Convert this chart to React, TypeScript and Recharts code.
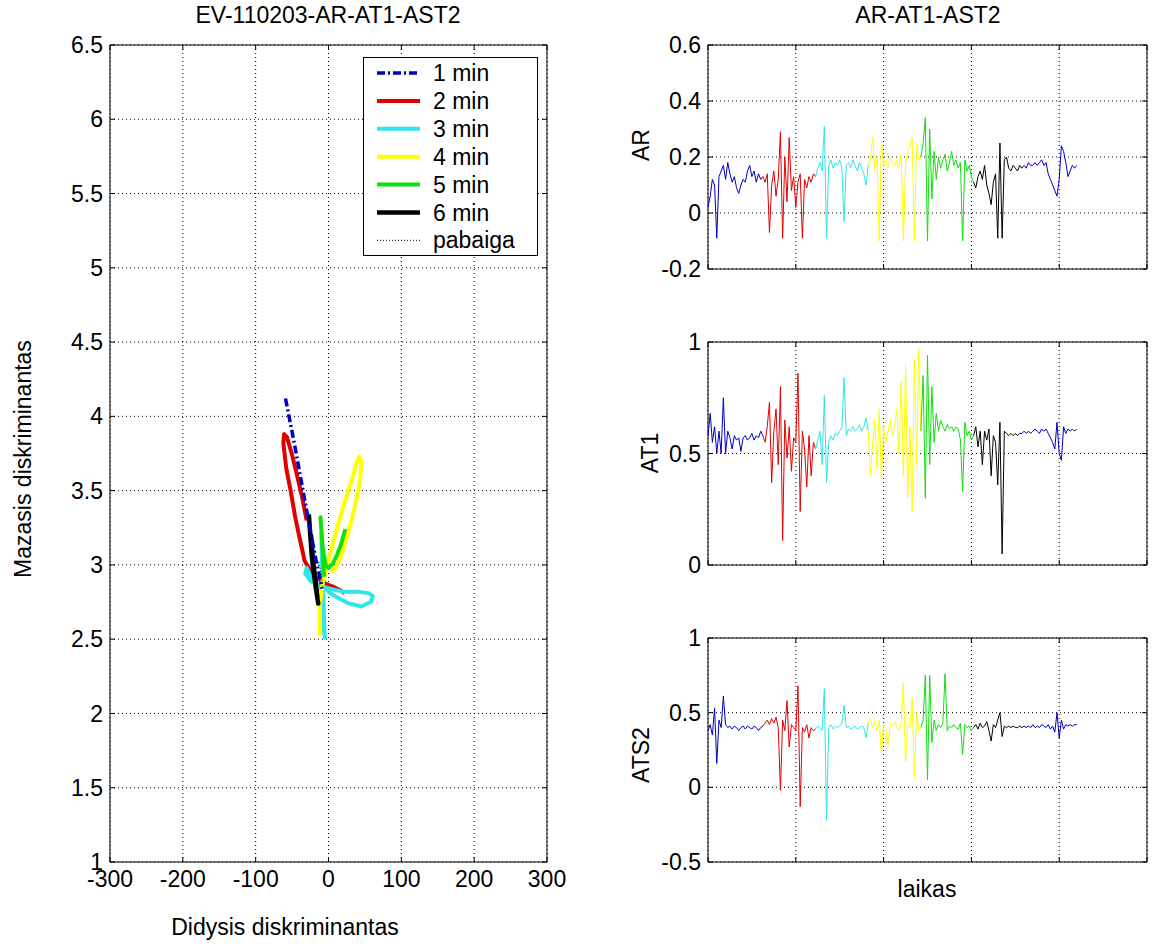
import React from 'react';
import {
  CartesianGrid,
  Legend,
  Line,
  LineChart,
  ReferenceArea,
  XAxis,
  YAxis,
} from 'recharts';

const FONT = '"Liberation Sans", Arial, Helvetica, sans-serif';

const BLUE = '#0000c0';
const RED = '#e00000';
const CYAN = '#30e6ea';
const YELLOW = '#ffff00';
const GREEN = '#10e010';
const BLACK = '#000000';

// ---- left panel: discriminant trajectories per minute ----
const min1X = [-59, -53, -47, -41, -35, -29, -23, -17, -12, -9];
const min1Y = [4.12, 3.97, 3.82, 3.66, 3.5, 3.34, 3.18, 3.03, 2.92, 2.84];

const min2X = [-30, -36, -43, -50, -57, -61, -62, -58, -52, -46, -41, -36, -33, -25, -15, -3, 8, 16, 22];
const min2Y = [3.3, 3.45, 3.6, 3.74, 3.86, 3.88, 3.82, 3.65, 3.5, 3.33, 3.21, 3.1, 3.03, 2.96, 2.91, 2.87, 2.85, 2.83, 2.81];

const min3X = [-10, -9, -8, -7, -6, -5, -6, -7, -12, -22, -30, -32, -24, -12, 2, 20, 40, 55, 61, 58, 45, 28, 12, 0, -6];
const min3Y = [3.22, 3.05, 2.88, 2.7, 2.55, 2.51, 2.62, 2.8, 2.86, 2.9, 2.98, 2.94, 2.89, 2.86, 2.84, 2.82, 2.82, 2.81, 2.79, 2.75, 2.72, 2.74, 2.78, 2.82, 2.85];

const min4X = [-12, -12, -8, -3, 0, 8, 16, 24, 32, 38, 42, 45, 44, 40, 34, 26, 18, 10, 4];
const min4Y = [2.52, 2.72, 2.88, 2.97, 3.03, 3.18, 3.32, 3.45, 3.57, 3.68, 3.73, 3.7, 3.6, 3.48, 3.35, 3.2, 3.07, 2.98, 2.95];

const min5X = [23, 18, 12, 6, 0, -4, -8, -10, -11, -9, -7, -6];
const min5Y = [3.24, 3.15, 3.07, 3.01, 2.98, 3.0, 3.12, 3.25, 3.32, 3.18, 3.02, 2.92];

const min6X = [-27, -25, -23, -20, -17, -14, -16, -19, -22, -24, -21, -17, -15];
const min6Y = [3.34, 3.2, 3.06, 2.94, 2.83, 2.74, 2.8, 2.92, 3.06, 3.2, 3.02, 2.86, 2.77];

const endX = [-13, -11, -9, -7];
const endY = [3.02, 2.96, 2.9, 2.84];

const leftXTicks = [-300, -200, -100, 0, 100, 200, 300];
const leftYTicks = [1, 1.5, 2, 2.5, 3, 3.5, 4, 4.5, 5, 5.5, 6, 6.5];

// ---- right panels: signals over time, coloured by minute ----
const segmentNames = ['blue1', 'red', 'cyan', 'yellow', 'green', 'black', 'blue2'];
const segmentBreaks = [0, 25, 49, 73, 97, 121, 143, 168];
const segmentColors = [BLUE, RED, CYAN, YELLOW, GREEN, BLACK, BLUE];

const arValues = [
  0.02, 0.06, 0.12, 0.1, -0.09, 0.13, 0.15, 0.17, 0.12, 0.18, 0.14, 0.11, 0.13, 0.09, 0.07, 0.1, 0.12, 0.11, 0.15, 0.17, 0.13, 0.15, 0.11, 0.14, 0.12,
  0.13, 0.11, 0.14, -0.07, 0.1, 0.15, 0.06, 0.12, 0.29, -0.09, 0.2, 0.04, 0.27, 0.08, 0.13, 0.02, 0.11, 0.14, -0.09, 0.12, 0.09, 0.13, 0.11, 0.14,
  0.13, 0.16, 0.18, 0.15, 0.31, -0.09, 0.17, 0.19, 0.16, 0.18, 0.17, 0.19, 0.16, -0.03, 0.17, 0.18, 0.16, 0.19, 0.17, 0.15, 0.18, 0.16, 0.14, 0.1,
  0.17, 0.19, 0.27, 0.15, 0.2, -0.1, 0.26, 0.17, 0.19, 0.16, 0.2, 0.18, 0.17, 0.19, 0.16, 0.21, -0.1, 0.18, 0.22, 0.24, 0.27, -0.1, 0.25, 0.19,
  0.2, 0.25, 0.34, -0.1, 0.3, 0.05, 0.22, 0.12, 0.2, 0.16, 0.19, 0.21, 0.15, 0.18, 0.22, 0.17, 0.19, 0.16, 0.18, -0.1, 0.19, 0.15, 0.17, 0.13,
  0.11, 0.09, 0.13, 0.15, 0.12, 0.17, 0.1, 0.07, 0.03, 0.11, 0.14, -0.09, 0.25, -0.09, 0.19, 0.2, 0.16, 0.15, 0.17, 0.16, 0.15, 0.17,
  0.16, 0.17, 0.16, 0.18, 0.17, 0.17, 0.18, 0.17, 0.18, 0.19, 0.17, 0.18, 0.14, 0.12, 0.1, 0.08, 0.06, 0.12, 0.24, 0.22, 0.18, 0.13, 0.15, 0.17, 0.16, 0.17,
];

const at1Values = [
  0.58, 0.68, 0.55, 0.62, 0.5, 0.6, 0.5, 0.75, 0.5, 0.6, 0.57, 0.52, 0.58, 0.56, 0.57, 0.51, 0.57, 0.58, 0.56, 0.57, 0.59, 0.56, 0.58, 0.57, 0.6,
  0.58, 0.55, 0.62, 0.73, 0.37, 0.6, 0.7, 0.45, 0.8, 0.11, 0.65, 0.48, 0.62, 0.42, 0.57, 0.55, 0.86, 0.24, 0.6, 0.52, 0.35, 0.58, 0.4, 0.55,
  0.52, 0.56, 0.6, 0.45, 0.76, 0.37, 0.55, 0.58, 0.56, 0.59, 0.58, 0.6, 0.62, 0.84, 0.58, 0.61, 0.6, 0.62, 0.6, 0.61, 0.63, 0.6, 0.62, 0.66,
  0.6, 0.4, 0.55, 0.65, 0.43, 0.7, 0.38, 0.62, 0.55, 0.6, 0.65, 0.58, 0.62, 0.7, 0.5, 0.82, 0.4, 0.9, 0.3, 0.62, 0.24, 0.92, 0.45, 0.97,
  0.6, 0.85, 0.3, 0.94, 0.45, 0.8, 0.55, 0.68, 0.6, 0.65, 0.62, 0.6, 0.63, 0.61, 0.62, 0.6, 0.62, 0.61, 0.56, 0.33, 0.64, 0.58, 0.6, 0.56,
  0.58, 0.62, 0.53, 0.6, 0.45, 0.6, 0.56, 0.61, 0.4, 0.58, 0.55, 0.36, 0.64, 0.05, 0.6, 0.59, 0.58, 0.59, 0.58, 0.59, 0.58, 0.59,
  0.59, 0.6, 0.59, 0.6, 0.59, 0.6, 0.61, 0.6, 0.59, 0.61, 0.6, 0.61, 0.59, 0.57, 0.55, 0.52, 0.64, 0.5, 0.47, 0.62, 0.59, 0.61, 0.6, 0.61, 0.6, 0.61,
];

const ats2Values = [
  0.38, 0.42, 0.35, 0.53, 0.16, 0.45, 0.4, 0.61, 0.42, 0.4, 0.41, 0.39, 0.41, 0.4, 0.38, 0.4, 0.41, 0.39, 0.41, 0.4, 0.39, 0.41, 0.4, 0.38, 0.4,
  0.41, 0.43, 0.45, 0.42, 0.46, 0.43, 0.47, 0.4, -0.02, 0.45, 0.38, 0.58, 0.27, 0.42, 0.4, 0.38, 0.68, -0.13, 0.4, 0.37, 0.42, 0.33, 0.4, 0.38,
  0.39, 0.41, 0.4, 0.38, 0.66, -0.22, 0.4, 0.42, 0.39, 0.41, 0.4, 0.41, 0.43, 0.55, 0.4, 0.41, 0.39, 0.4, 0.41, 0.39, 0.4, 0.41, 0.4, 0.33,
  0.43, 0.46, 0.4, 0.44, 0.38, 0.45, 0.22, 0.42, 0.4, 0.28, 0.43, 0.41, 0.44, 0.4, 0.38, 0.43, 0.7, 0.17, 0.42, 0.4, 0.6, 0.07, 0.5, 0.38,
  0.4, 0.45, 0.75, 0.05, 0.75, 0.3, 0.45, 0.38, 0.42, 0.4, 0.43, 0.76, 0.38, 0.41, 0.4, 0.42, 0.4, 0.39, 0.43, 0.22, 0.42, 0.4, 0.41, 0.38,
  0.4, 0.42, 0.39, 0.43, 0.4, 0.41, 0.44, 0.38, 0.31, 0.42, 0.4, 0.45, 0.5, 0.34, 0.41, 0.4, 0.41, 0.4, 0.41, 0.4, 0.4, 0.41,
  0.4, 0.41, 0.4, 0.41, 0.4, 0.42, 0.4, 0.41, 0.4, 0.42, 0.41, 0.4, 0.42, 0.39, 0.41, 0.37, 0.5, 0.33, 0.45, 0.39, 0.42, 0.41, 0.42, 0.41, 0.42, 0.42,
];

const timeTicks = [0, 40, 80, 120, 160, 200];
const arTicks = [-0.2, 0, 0.2, 0.4, 0.6];
const at1Ticks = [0, 0.5, 1];
const ats2Ticks = [-0.5, 0, 0.5, 1];

const toPoints = (xs: number[], ys: number[]) => xs.map((x, i) => ({ x, y: ys[i] }));

const trajectories = [
  { name: '1 min', data: toPoints(min1X, min1Y), color: BLUE, width: 3.5, dash: '8 3 2 3' },
  { name: '2 min', data: toPoints(min2X, min2Y), color: RED, width: 4 },
  { name: '3 min', data: toPoints(min3X, min3Y), color: CYAN, width: 4 },
  { name: '4 min', data: toPoints(min4X, min4Y), color: YELLOW, width: 4 },
  { name: '5 min', data: toPoints(min5X, min5Y), color: GREEN, width: 4 },
  { name: '6 min', data: toPoints(min6X, min6Y), color: BLACK, width: 4.5 },
  { name: 'pabaiga', data: toPoints(endX, endY), color: '#303030', width: 1.2, dash: '1 2' },
];
// drawing order: blue drawn over red, as in the original
const drawOrder = [1, 2, 3, 4, 5, 0, 6];

function buildRows(values: number[]) {
  return values.map((v, i) => {
    const row: Record<string, number> = { t: i };
    segmentNames.forEach((n, k) => {
      if (i >= segmentBreaks[k] && i <= segmentBreaks[k + 1]) row[n] = v;
    });
    return row;
  });
}

const tickText = { fontSize: 23, fontFamily: FONT, fill: '#000' };

// MATLAB style: ticks point inwards on all four sides
function makeXTick(top: number, bottom: number, showLabel: boolean) {
  return (props: any) => {
    const { x, payload } = props;
    return (
      <g>
        <line x1={x} x2={x} y1={bottom} y2={bottom - 5} stroke="#000" />
        <line x1={x} x2={x} y1={top} y2={top + 5} stroke="#000" />
        {showLabel && (
          <text x={x} y={bottom + 9} dy="0.71em" textAnchor="middle" {...tickText}>
            {payload.value}
          </text>
        )}
      </g>
    );
  };
}

function makeYTick(left: number, right: number) {
  return (props: any) => {
    const { y, payload } = props;
    return (
      <g>
        <line x1={left} x2={left + 5} y1={y} y2={y} stroke="#000" />
        <line x1={right - 5} x2={right} y1={y} y2={y} stroke="#000" />
        <text x={left - 7} y={y} dy="0.35em" textAnchor="end" {...tickText}>
          {payload.value}
        </text>
      </g>
    );
  };
}

const renderLegend = () => (
  <svg width={175} height={200} style={{ display: 'block' }}>
    <rect x={0.5} y={0.5} width={174} height={198} fill="#fff" stroke="#000" />
    {trajectories.map((s, i) => {
      const cy = 16 + i * 27.9;
      return (
        <g key={s.name}>
          <line x1={14} x2={57} y1={cy} y2={cy} stroke={s.color} strokeWidth={s.width} strokeDasharray={s.dash} />
          <text x={70} y={cy} dy="0.35em" {...tickText}>
            {s.name}
          </text>
        </g>
      );
    })}
  </svg>
);

function TrajectoryChart() {
  const plot = { left: 110, right: 547, top: 45, bottom: 862 };
  return (
    <LineChart width={590} height={944} margin={{ top: 45, right: 43, bottom: 52, left: 50 }}>
      <CartesianGrid stroke="#000" strokeDasharray="1 3" />
      <XAxis
        type="number"
        dataKey="x"
        domain={[-300, 300]}
        ticks={leftXTicks}
        interval={0}
        height={30}
        axisLine={false}
        tickLine={false}
        tick={makeXTick(plot.top, plot.bottom, true)}
        allowDataOverflow
      />
      <YAxis
        type="number"
        dataKey="y"
        domain={[1, 6.5]}
        ticks={leftYTicks}
        interval={0}
        width={60}
        axisLine={false}
        tickLine={false}
        tick={makeYTick(plot.left, plot.right)}
        allowDataOverflow
      />
      <ReferenceArea x1={-300} x2={300} y1={1} y2={6.5} fill="none" stroke="#000" strokeWidth={1} />
      {drawOrder.map(i => {
        const s = trajectories[i];
        return (
          <Line
            key={s.name}
            name={s.name}
            data={s.data}
            dataKey="y"
            type="linear"
            stroke={s.color}
            strokeWidth={s.width}
            strokeDasharray={s.dash}
            strokeLinejoin="round"
            dot={false}
            activeDot={false}
            isAnimationActive={false}
          />
        );
      })}
      <Legend
        layout="vertical"
        align="center"
        verticalAlign="middle"
        content={renderLegend}
        wrapperStyle={{ position: 'absolute', left: 363, top: 57, width: 175, height: 200 }}
      />
    </LineChart>
  );
}

interface SignalProps {
  values: number[];
  ticks: number[];
  top: number;
  height: number;
  plotTop: number;
  plotBottom: number;
}

function SignalChart({ values, ticks, top, height, plotTop, plotBottom }: SignalProps) {
  const rows = buildRows(values);
  const t = plotTop - top;
  const b = plotBottom - top;
  return (
    <div style={{ position: 'absolute', left: 600, top }}>
      <LineChart width={555} height={height} data={rows} margin={{ top: t, right: 8, bottom: height - b - 30, left: 48 }}>
        <CartesianGrid stroke="#000" strokeDasharray="1 3" />
        <XAxis
          type="number"
          dataKey="t"
          domain={[0, 200]}
          ticks={timeTicks}
          interval={0}
          height={30}
          axisLine={false}
          tickLine={false}
          tick={makeXTick(t, b, false)}
        />
        <YAxis
          type="number"
          domain={[ticks[0], ticks[ticks.length - 1]]}
          ticks={ticks}
          interval={0}
          width={60}
          axisLine={false}
          tickLine={false}
          tick={makeYTick(108, 547)}
          allowDataOverflow
        />
        <ReferenceArea x1={0} x2={200} y1={ticks[0]} y2={ticks[ticks.length - 1]} fill="none" stroke="#000" strokeWidth={1} />
        {segmentNames.map((n, k) => (
          <Line
            key={n}
            dataKey={n}
            type="linear"
            stroke={segmentColors[k]}
            strokeWidth={1}
            dot={false}
            activeDot={false}
            connectNulls={false}
            isAnimationActive={false}
          />
        ))}
      </LineChart>
    </div>
  );
}

const textStyle: React.CSSProperties = {
  position: 'absolute',
  fontFamily: FONT,
  fontSize: 23,
  lineHeight: '26px',
  whiteSpace: 'nowrap',
  color: '#000',
};

function Label({ text, cx, cy, rotate }: { text: string; cx: number; cy: number; rotate?: boolean }) {
  return (
    <div
      style={{
        ...textStyle,
        left: cx,
        top: cy,
        transform: `translate(-50%, -50%)${rotate ? ' rotate(-90deg)' : ''}`,
      }}
    >
      {text}
    </div>
  );
}

export default function App() {
  return (
    <div style={{ position: 'absolute', left: 0, top: 0, width: 1155, height: 944, background: '#fff', overflow: 'hidden' }}>
      <div style={{ position: 'absolute', left: 0, top: 0 }}>
        <TrajectoryChart />
      </div>
      <SignalChart values={arValues} ticks={arTicks} top={0} height={300} plotTop={45} plotBottom={269} />
      <SignalChart values={at1Values} ticks={at1Ticks} top={300} height={300} plotTop={342} plotBottom={565} />
      <SignalChart values={ats2Values} ticks={ats2Ticks} top={600} height={344} plotTop={638} plotBottom={862} />

      <Label text="EV-110203-AR-AT1-AST2" cx={328} cy={15} />
      <Label text="AR-AT1-AST2" cx={928} cy={15} />
      <Label text="Mazasis diskriminantas" cx={23} cy={459} rotate />
      <Label text="Didysis diskriminantas" cx={285} cy={927} />
      <Label text="laikas" cx={927} cy={889} />
      <Label text="AR" cx={641} cy={145} rotate />
      <Label text="AT1" cx={650} cy={453} rotate />
      <Label text="ATS2" cx={641} cy={755} rotate />
    </div>
  );
}
